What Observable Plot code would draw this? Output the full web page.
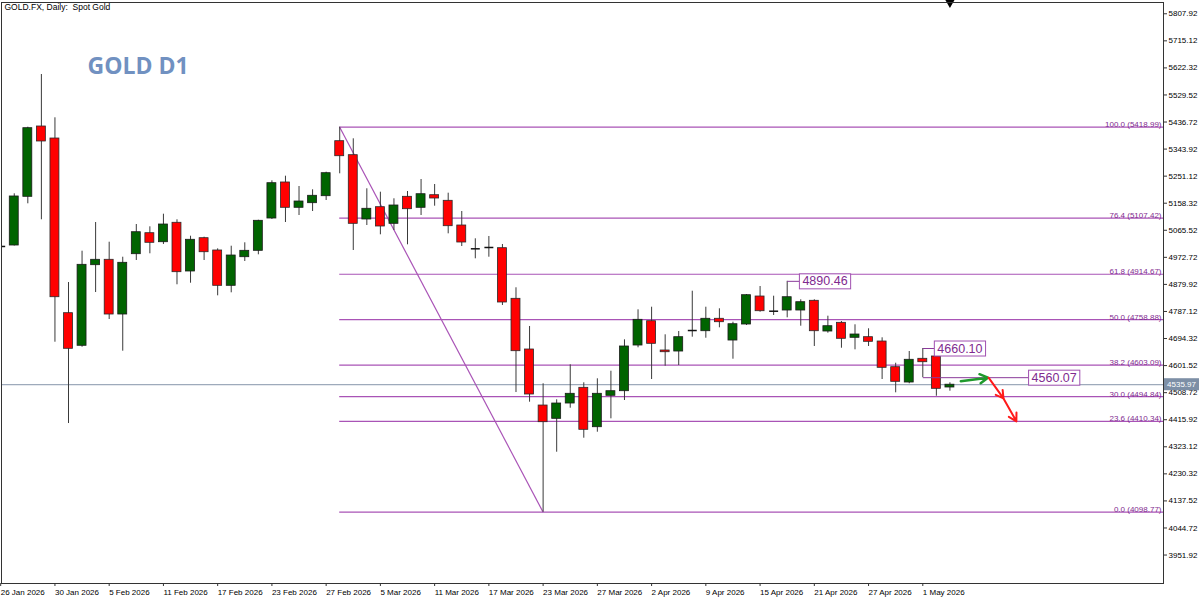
<!DOCTYPE html>
<html><head><meta charset="utf-8">
<script src="https://cdn.jsdelivr.net/npm/d3@7"></script>
<script src="https://cdn.jsdelivr.net/npm/@observablehq/plot@0.6"></script>
<style>
html,body{margin:0;padding:0;background:#fff;overflow:hidden;}
#chart{width:1200px;height:599px;}
</style></head><body><div id="chart"></div>
<script>
// ---- data ----
const dates = ["26 Jan 2026","27 Jan 2026","28 Jan 2026","29 Jan 2026","30 Jan 2026",
"2 Feb 2026","3 Feb 2026","4 Feb 2026","5 Feb 2026","6 Feb 2026",
"9 Feb 2026","10 Feb 2026","11 Feb 2026","12 Feb 2026","13 Feb 2026",
"16 Feb 2026","17 Feb 2026","18 Feb 2026","19 Feb 2026","20 Feb 2026",
"23 Feb 2026","24 Feb 2026","25 Feb 2026","26 Feb 2026","27 Feb 2026",
"2 Mar 2026","3 Mar 2026","4 Mar 2026","5 Mar 2026","6 Mar 2026",
"9 Mar 2026","10 Mar 2026","11 Mar 2026","12 Mar 2026","13 Mar 2026",
"16 Mar 2026","17 Mar 2026","18 Mar 2026","19 Mar 2026","20 Mar 2026",
"23 Mar 2026","24 Mar 2026","25 Mar 2026","26 Mar 2026","27 Mar 2026",
"30 Mar 2026","31 Mar 2026","1 Apr 2026","2 Apr 2026",
"6 Apr 2026","7 Apr 2026","8 Apr 2026","9 Apr 2026","10 Apr 2026",
"13 Apr 2026","14 Apr 2026","15 Apr 2026","16 Apr 2026","17 Apr 2026",
"20 Apr 2026","21 Apr 2026","22 Apr 2026","23 Apr 2026","24 Apr 2026",
"27 Apr 2026","28 Apr 2026","29 Apr 2026","30 Apr 2026","1 May 2026",
"4 May 2026","5 May 2026"];
const open = [5010,5013.3,5180.3,5421.4,5380.2,4781.2,4669.4,4945.8,4964.3,4776.7,
4983.5,5055.5,5024.6,5091.2,4924.2,5038.4,4996.2,4875.1,4973.2,4995.1,
5105.9,5229.4,5142.6,5158.4,5182.4,5371.0,5323.0,5102.5,5144.7,5087.7,
5180.3,5142.6,5185.8,5166.6,5081.9,5002.0,5006.5,5004.1,4830.5,4656.7,
4464.6,4419.0,4471.5,4525.3,4390.2,4497.9,4513.7,4670.4,4753.7,4653.3,
4649.8,4721.8,4719.4,4762.0,4687.5,4742.4,4838.4,4788.0,4790.4,4790.4,
4823.7,4718.4,4748.2,4696.8,4698.9,4684.1,4596.0,4543.5,4624.8,4632.7,4526.4];
const high = [5030,5190.6,5419.0,5599.7,5451.2,4886.4,4993.8,5092.2,5024.6,4973.2,
5085.3,5077.4,5120.7,5101.5,5045.2,5041.8,5001.9,5010.9,5022.6,5100.0,
5235.2,5251.0,5215.6,5204.3,5264.7,5418.99,5379.2,5207.8,5196.1,5173.5,
5198.5,5239.6,5222.5,5192.7,5129.9,5036.3,5044.2,5016.8,4868.3,4735.6,
4539.1,4484.2,4604.2,4542.5,4556.2,4582.2,4689.9,4792.8,4801.7,4707.1,
4718.4,4856.6,4801.7,4796.3,4750.3,4845.3,4872.7,4839.5,4890.46,4827.1,
4827.1,4770.9,4752.7,4741.4,4727.7,4696.8,4609.7,4649.8,4660.10,4636.0,4542.5];
const low = [4990,5011.6,5156.3,5101.5,4681.7,4402.9,4664.5,4852.1,4759.6,4650.9,
4961.9,4984.9,5016.8,4878.6,4884.0,4961.9,4840.8,4851.1,4958.5,4981.4,
5102.5,5092.2,5116.2,5129.9,5167.6,5259.2,4996.2,5081.9,5050.0,5064.8,
5015.7,5116.2,5148.1,5053.4,5009.9,4967.7,4973.2,4807.6,4509.2,4476.0,
4098.77,4304.5,4455.4,4352.5,4373.1,4419.0,4481.8,4662.5,4553.8,4599.4,
4601.8,4698.9,4695.4,4731.1,4623.4,4739.0,4784.6,4773.3,4765.4,4736.6,
4667.0,4712.6,4661.1,4655.6,4667.0,4553.8,4508.2,4539.1,4560.07,4496.5,4513.7];
const close = [5010,5181.4,5415.6,5370.0,4836.0,4659.1,4947.1,4964.3,4776.7,4954.0,
5058.9,5022.6,5085.3,4921.8,5032.9,4990.3,4875.1,4979.0,4995.1,5098.0,
5227.0,5142.6,5164.2,5183.8,5261.3,5319.5,5087.7,5139.2,5078.5,5150.5,
5137.8,5189.2,5174.5,5079.5,5023.6,5002.0,5006.5,4817.9,4650.9,4502.4,
4407.4,4471.5,4504.8,4381.3,4504.8,4513.7,4667.0,4758.5,4676.2,4647.4,
4698.9,4721.8,4762.0,4750.3,4743.4,4842.9,4788.0,4788.0,4836.0,4818.9,
4719.4,4736.6,4693.4,4708.1,4683.1,4593.9,4545.9,4621.4,4613.1,4521.9,4535.97];

const tickLabels = ["26 Jan 2026","30 Jan 2026","5 Feb 2026","11 Feb 2026","17 Feb 2026",
"23 Feb 2026","27 Feb 2026","5 Mar 2026","11 Mar 2026","17 Mar 2026","23 Mar 2026",
"27 Mar 2026","2 Apr 2026","9 Apr 2026","15 Apr 2026","21 Apr 2026","27 Apr 2026","1 May 2026"];
const yTicks = [3951.92,4044.72,4137.52,4230.32,4323.12,4415.92,4508.72,4601.52,4694.32,
4787.12,4879.92,4972.72,5065.52,5158.32,5251.12,5343.92,5436.72,5529.52,5622.32,5715.12,5807.92];

const fibPct = [100.0,76.4,61.8,50.0,38.2,30.0,23.6,0.0];
const fibVal = [5418.99,5107.42,4914.67,4758.88,4603.09,4494.84,4410.34,4098.77];
const fibFrom = "2 Mar 2026", fibTo = "23 Mar 2026";

const noteDates = ["17 Apr 2026","1 May 2026","1 May 2026"];
const notePrices = [4890.46,4660.10,4560.07];

const greenArrow = [{x1:70.8,y1:4548,x2:72.8,y2:4560.07}];
const redArrow = [{x1:72.85,y1:4560.07,x2:73.95,y2:4489},{x1:73.95,y1:4489,x2:74.9,y2:4410.34}];

// ---- build ----
const bars = dates.map((d,i)=>({i,d,o:open[i],h:high[i],l:low[i],c:close[i]}));
const up = bars.filter(b=>b.c>b.o), dn = bars.filter(b=>b.c<b.o), dj = bars.filter(b=>b.c===b.o);
const last = bars[bars.length-1];
const X0 = 0.059, X1 = 85.75, Y0 = 3854.3, Y1 = 5846.6;
const hw = 0.33;
const fib = fibPct.map((p,k)=>({p,v:fibVal[k]}));
const iFrom = dates.indexOf(fibFrom), iTo = dates.indexOf(fibTo);
const noteOffset = [0.9,0.85,7.8];
const notes = notePrices.map((v,k)=>({i:dates.indexOf(noteDates[k]), v, x2:dates.indexOf(noteDates[k])+noteOffset[k], t:v.toFixed(2)}));
const tickIdx = tickLabels.map(t=>dates.indexOf(t));
const FONT = "'Liberation Sans', Arial, sans-serif";
const fibLine = "#a953b6", fibText = "#7f2a8f";

const plot = Plot.plot({
  width:1200, height:599,
  marginLeft:1, marginRight:37, marginTop:2, marginBottom:16,
  style:{fontFamily:FONT, fontSize:"8px", color:"#000", background:"#fff"},
  x:{type:"linear", domain:[X0,X1], label:null},
  y:{domain:[Y0,Y1], label:null},
  marks:[
    Plot.ruleY([last.c], {stroke:"#8695aa", strokeWidth:1}),
    Plot.ruleY(fib, {y:"v", x1:()=>iFrom, x2:()=>X1, stroke:fibLine, strokeWidth:1.2}),
    Plot.link([0], {x1:()=>iFrom, y1:()=>fibVal[0], x2:()=>iTo, y2:()=>fibVal[fibVal.length-1], stroke:fibLine, strokeWidth:1.2}),
    Plot.text(fib, {x:()=>X1, y:"v", text:d=>`${d.p.toFixed(1)} (${d.v.toFixed(2)})`, textAnchor:"end", lineAnchor:"bottom", dx:-2, dy:0, fill:fibText, fontSize:8}),
    Plot.ruleX(bars, {x:"i", y1:"l", y2:"h", stroke:"#3a3a3a", strokeWidth:1, clip:true}),
    Plot.rect(up, {x1:d=>d.i-hw, x2:d=>d.i+hw, y1:"o", y2:"c", fill:"#006400", stroke:"#1a1a1a", strokeWidth:0.8, clip:true}),
    Plot.rect(dn, {x1:d=>d.i-hw, x2:d=>d.i+hw, y1:"o", y2:"c", fill:"#ff0000", stroke:"#2a2a2a", strokeWidth:0.8, clip:true}),
    Plot.link(dj, {x1:d=>d.i-hw, x2:d=>d.i+hw, y1:"c", y2:"c", stroke:"#111", strokeWidth:1.5, clip:true}),
    Plot.link(notes, {x1:"i", x2:"x2", y1:"v", y2:"v", stroke:"#8a3a9a", strokeWidth:1}),
    Plot.text(notes, {x:"x2", y:"v", text:"t", textAnchor:"start", dx:3, fontSize:12.5, fill:"#7f2a8f"}),
    Plot.arrow(greenArrow, {x1:"x1",y1:"y1",x2:"x2",y2:"y2", stroke:"#1f9a2c", strokeWidth:2.5, headLength:8}),
    Plot.arrow(redArrow, {x1:"x1",y1:"y1",x2:"x2",y2:"y2", stroke:"#ff1a1a", strokeWidth:2, headLength:8}),
    Plot.dot([0], {x:()=>last.i, y:()=>Y1, symbol:"triangle", rotate:180, r:3.5, fill:"#000", stroke:"none"}),
    Plot.frame({stroke:"#333", strokeWidth:1}),
    Plot.axisY(yTicks, {anchor:"right", tickSize:3, tickPadding:2, tickFormat:d=>d.toFixed(2), fontSize:8, stroke:"#333"}),
    Plot.axisX(tickIdx, {anchor:"bottom", tickSize:3, tickPadding:3, tickFormat:i=>dates[i], textAnchor:"start", fontSize:8, stroke:"#333"}),
    Plot.text(["GOLD.FX, Daily:\u00a0 Spot Gold"], {frameAnchor:"top-left", dx:3, dy:5, lineAnchor:"middle", textAnchor:"start", fontSize:8.5, fill:"#000"}),
    Plot.text(["GOLD D1"], {frameAnchor:"top-left", dx:86, dy:64, lineAnchor:"middle", textAnchor:"start", fontSize:23, fontWeight:"bold", fontFamily:"'Open Sans', sans-serif", fill:"#7191c1"})
  ]
});
document.getElementById("chart").append(plot);

// boxes around note labels
const noteSet = new Set(notes.map(n=>n.t));
const NS = "http://www.w3.org/2000/svg";
plot.querySelectorAll("text").forEach(t=>{
  if (!noteSet.has(t.textContent)) return;
  const bb = t.getBBox();
  const r = document.createElementNS(NS,"rect");
  r.setAttribute("x", bb.x-3); r.setAttribute("y", bb.y-0.5);
  r.setAttribute("width", bb.width+6); r.setAttribute("height", bb.height+1);
  r.setAttribute("fill","#fff"); r.setAttribute("stroke","#a050b0"); r.setAttribute("stroke-width","1");
  if (t.getAttribute("transform")) r.setAttribute("transform", t.getAttribute("transform"));
  t.parentNode.insertBefore(r, t);
});

// current price tag on the axis
const ys = plot.scale("y");
const yf = ys.apply ? (v=>ys.apply(v)) : (v=> ys.range[0] + (v-ys.domain[0])*(ys.range[1]-ys.range[0])/(ys.domain[1]-ys.domain[0]));
const yp = yf(last.c);
const g = d3.select(plot).append("g");
g.append("rect").attr("x",1164).attr("y",yp-6).attr("width",35).attr("height",12).attr("fill","#7d8fa6");
g.append("text").attr("x",1181.5).attr("y",yp).attr("dy","0.35em").attr("text-anchor","middle")
 .attr("font-size",8).attr("font-family",FONT).attr("fill","#fff").text(last.c.toFixed(2));
</script></body></html>
